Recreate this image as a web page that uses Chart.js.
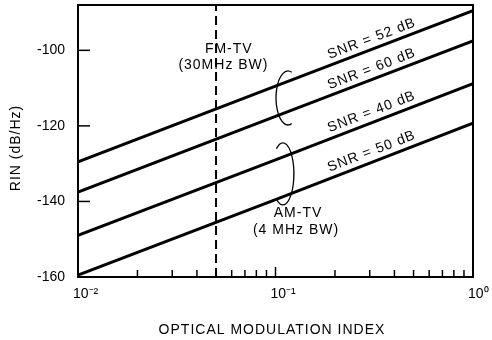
<!DOCTYPE html>
<html>
<head>
<meta charset="utf-8">
<script src="https://cdn.jsdelivr.net/npm/chart.js@4/dist/chart.umd.min.js"></script>
<style>
  html, body { margin: 0; padding: 0; background: #fff; }
  #wrap { width: 492px; height: 340px; }
</style>
</head>
<body>
<div id="wrap"><canvas id="rinChart" width="492" height="340"></canvas></div>
<script>
// -------------------------
// Data
// -------------------------
const modIndex = [0.01, 0.1, 1];
const rinSnr52 = [-129.5, -109.5, -89.5];
const rinSnr60 = [-137.5, -117.5, -97.5];
const rinSnr40 = [-149, -129, -108.8];
const rinSnr50 = [-159.5, -139.5, -119.3];
const lineLabels = ["SNR = 52 dB", "SNR = 60 dB", "SNR = 40 dB", "SNR = 50 dB"];

const fmLimitIndex = [0.05, 0.05];
const fmLimitRin = [-160, -88];

const yTicks = [-160, -140, -120, -100];
const xDecades = [0.01, 0.1, 1];
const xTickLabels = ["10⁻²", "10⁻¹", "10⁰"];
const xMinorTicks = [0.02, 0.03, 0.04, 0.05, 0.06, 0.07, 0.08, 0.09,
                     0.2, 0.3, 0.4, 0.5, 0.6, 0.7, 0.8, 0.9];

const FONT = '"Liberation Sans", Arial, sans-serif';

function toPoints(xs, ys) {
  return xs.map((x, i) => ({ x: x, y: ys[i] }));
}

// keep the plot box where the figure has it
function noScalePadding(s) {
  s.paddingTop = 0;
  s.paddingBottom = 0;
  s.paddingLeft = 0;
  s.paddingRight = 0;
}

// -------------------------
// Extras: frame, inward ticks, labels, brackets
// -------------------------
const figureExtras = {
  id: "figureExtras",
  afterDatasetsDraw(chart) {
    const ctx = chart.ctx;
    const area = chart.chartArea;
    const xs = chart.scales.x;
    const ys = chart.scales.y;

    ctx.save();
    ctx.strokeStyle = "#000";
    ctx.fillStyle = "#000";

    // frame
    ctx.lineWidth = 2;
    ctx.strokeRect(area.left, area.top, area.right - area.left, area.bottom - area.top);

    // inward ticks on y axis
    ctx.lineWidth = 1.5;
    yTicks.forEach(v => {
      const py = ys.getPixelForValue(v);
      ctx.beginPath();
      ctx.moveTo(area.left, py);
      ctx.lineTo(area.left + 12, py);
      ctx.stroke();
    });

    // inward ticks on x axis
    xMinorTicks.forEach(v => {
      const px = xs.getPixelForValue(v);
      ctx.beginPath();
      ctx.moveTo(px, area.bottom);
      ctx.lineTo(px, area.bottom - 7);
      ctx.stroke();
    });
    xDecades.forEach(v => {
      const px = xs.getPixelForValue(v);
      ctx.beginPath();
      ctx.moveTo(px, area.bottom);
      ctx.lineTo(px, area.bottom - 10);
      ctx.stroke();
    });

    // SNR labels along each line
    ctx.font = "14px " + FONT;
    ctx.letterSpacing = "1px";
    ctx.textAlign = "center";
    ctx.textBaseline = "middle";
    lineLabels.forEach((txt, i) => {
      const pts = chart.getDatasetMeta(i).data;
      const a = pts[0], b = pts[pts.length - 1];
      const ang = Math.atan2(b.y - a.y, b.x - a.x);
      const px = xs.getPixelForValue(0.32);
      const py = a.y + (b.y - a.y) * (px - a.x) / (b.x - a.x);
      const d = 10;
      ctx.save();
      ctx.translate(px + Math.sin(ang) * d, py - Math.cos(ang) * d);
      ctx.rotate(ang);
      ctx.fillText(txt, 0, 0);
      ctx.restore();
    });

    // group notes
    ctx.fillText("FM-TV", xs.getPixelForValue(0.058), ys.getPixelForValue(-99.6));
    ctx.fillText("(30MHz BW)", xs.getPixelForValue(0.0545), ys.getPixelForValue(-103.8));
    ctx.fillText("AM-TV", xs.getPixelForValue(0.13), ys.getPixelForValue(-143));
    ctx.fillText("(4 MHz BW)", xs.getPixelForValue(0.127), ys.getPixelForValue(-147.5));

    // brackets
    ctx.lineWidth = 1.3;
    ctx.beginPath();
    ctx.ellipse(xs.getPixelForValue(0.1157), ys.getPixelForValue(-112.6), 12, 27, 0,
                -0.4 * Math.PI, 0.4 * Math.PI, true);
    ctx.stroke();
    ctx.beginPath();
    ctx.ellipse(xs.getPixelForValue(0.109), ys.getPixelForValue(-132.7), 11, 31, 0,
                -0.7 * Math.PI, 0.7 * Math.PI, false);
    ctx.stroke();

    // axis titles
    ctx.textAlign = "center";
    ctx.fillText("OPTICAL MODULATION INDEX", 272, 330);
    ctx.save();
    ctx.translate(16, 148);
    ctx.rotate(-Math.PI / 2);
    ctx.fillText("RIN (dB/Hz)", 0, 0);
    ctx.restore();

    ctx.restore();
  }
};

// -------------------------
// Chart
// -------------------------
const ctx = document.getElementById("rinChart").getContext("2d");
const lineStyle = { borderColor: "#000", borderWidth: 3, pointRadius: 0, fill: false, tension: 0 };

new Chart(ctx, {
  type: "line",
  data: {
    datasets: [
      { label: lineLabels[0], data: toPoints(modIndex, rinSnr52), ...lineStyle },
      { label: lineLabels[1], data: toPoints(modIndex, rinSnr60), ...lineStyle },
      { label: lineLabels[2], data: toPoints(modIndex, rinSnr40), ...lineStyle },
      { label: lineLabels[3], data: toPoints(modIndex, rinSnr50), ...lineStyle },
      {
        label: "FM-TV limit",
        data: toPoints(fmLimitIndex, fmLimitRin),
        borderColor: "#000", borderWidth: 2, borderDash: [9, 5], pointRadius: 0, fill: false
      }
    ]
  },
  options: {
    responsive: false,
    devicePixelRatio: 1,
    animation: false,
    layout: { padding: { top: 5, right: 19, left: 0, bottom: 0 } },
    plugins: { legend: { display: false }, tooltip: { enabled: false } },
    scales: {
      x: {
        type: "logarithmic",
        min: 0.01,
        max: 1,
        grid: { display: false, drawTicks: false },
        border: { display: false },
        afterBuildTicks: s => { s.ticks = xDecades.map(v => ({ value: v })); },
        afterFit: s => { s.height = 63; noScalePadding(s); },
        ticks: {
          align: "start",
          labelOffset: -5,
          padding: 9,
          color: "#000",
          font: { family: FONT, size: 14 },
          callback: (v) => xTickLabels[xDecades.indexOf(v)] ?? ""
        }
      },
      y: {
        type: "linear",
        min: -160,
        max: -88,
        grid: { display: false, drawTicks: false },
        border: { display: false },
        afterBuildTicks: s => { s.ticks = yTicks.map(v => ({ value: v })); },
        afterFit: s => { s.width = 78; noScalePadding(s); },
        ticks: {
          padding: 13,
          color: "#000",
          font: { family: FONT, size: 14 },
          callback: v => String(v)
        }
      }
    }
  },
  plugins: [figureExtras]
});
</script>
</body>
</html>
